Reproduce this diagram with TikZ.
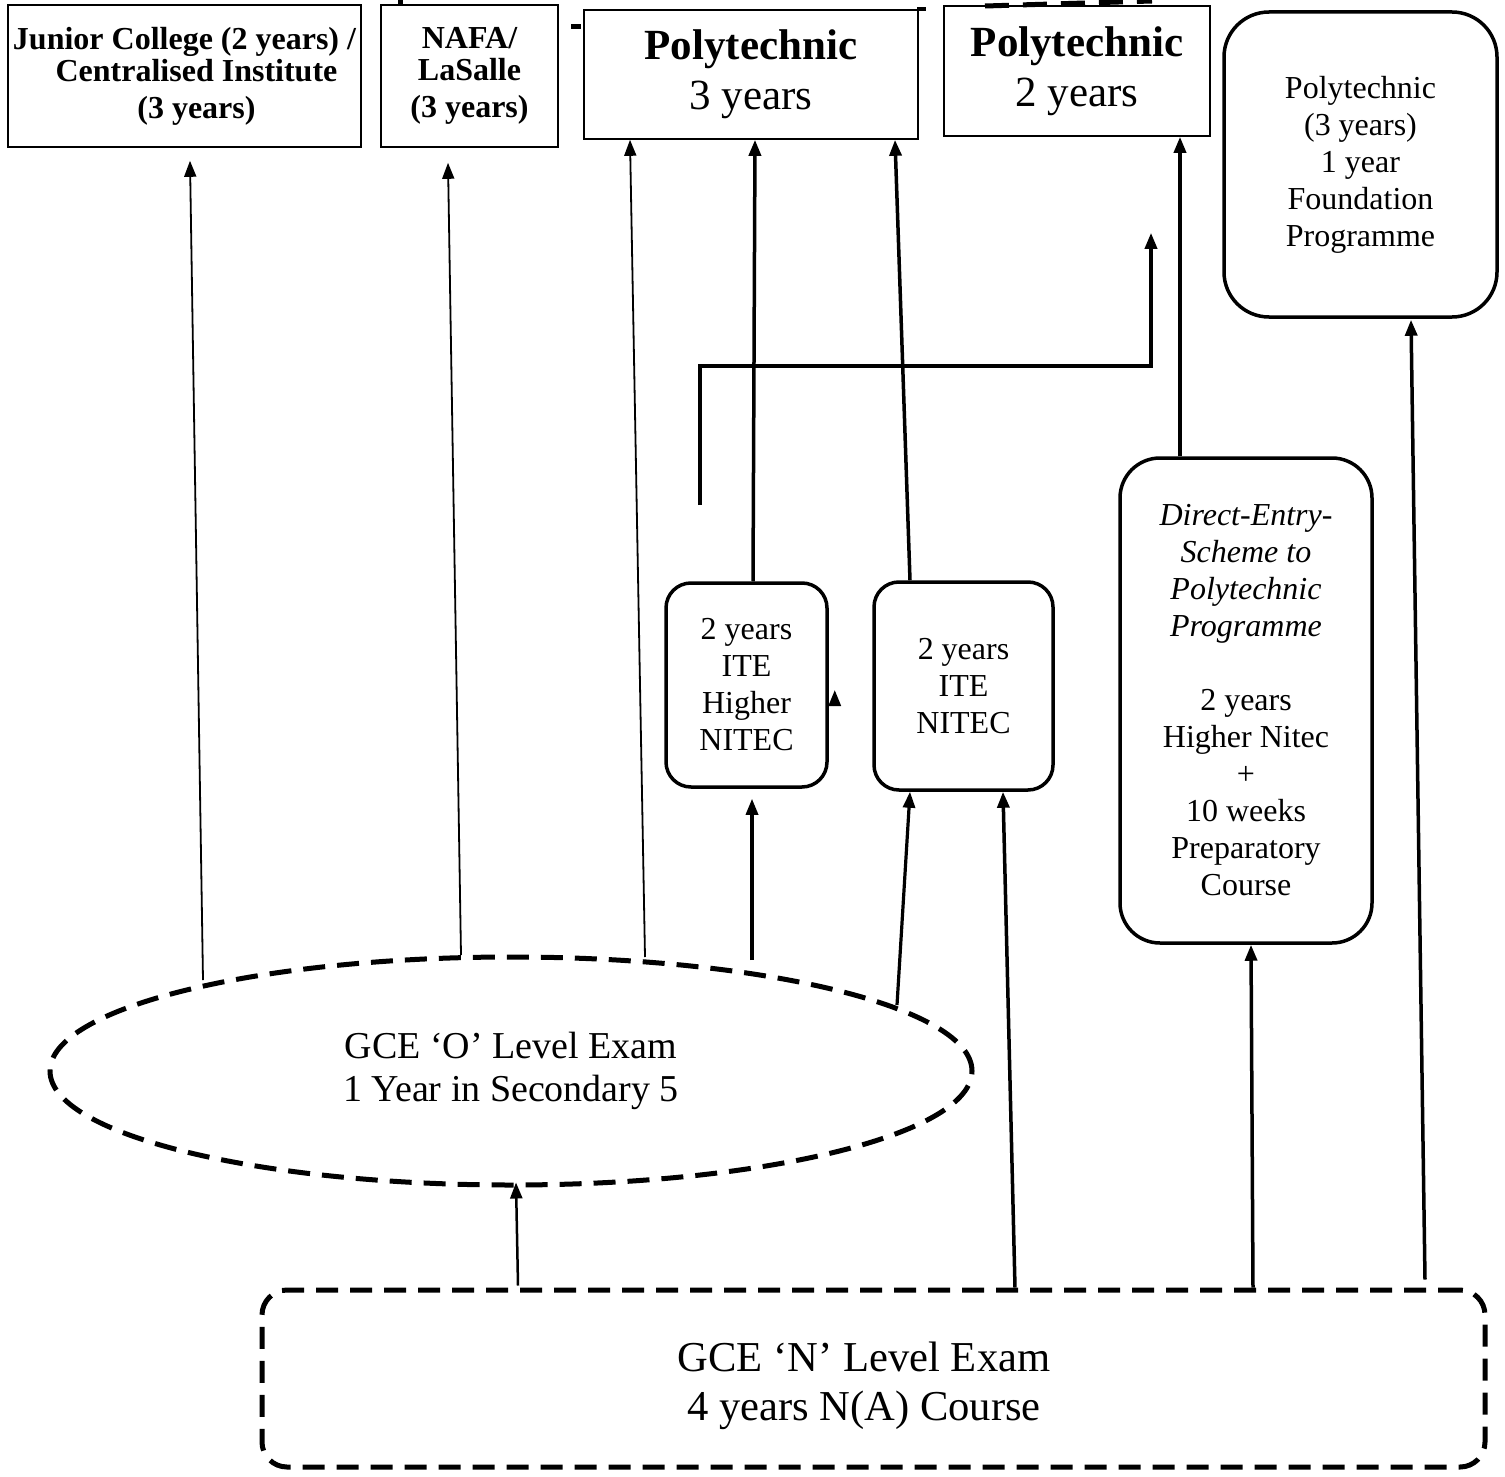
\documentclass[tikz,border=0pt]{standalone}
\usepackage{fontspec}
\setmainfont{Liberation Serif}
\usetikzlibrary{arrows.meta,shapes.geometric,calc}
\newcommand\fsmall{\fontsize{32}{37}\selectfont}
\newcommand\fbig{\fontsize{43}{50}\selectfont}
\begin{document}
\begin{tikzpicture}[x=1pt,y=-1pt,
  sq/.style={draw,line width=1.6pt,inner sep=0pt,align=center},
  rbox/.style={draw,line width=3.5pt,rounded corners=#1,inner sep=0pt,align=center},
  rbox/.default=25pt,
  dsh/.style={draw,line width=5pt,dash pattern=on 22pt off 12pt},
  arr/.style={-{Triangle[length=16pt,width=12pt]},line width=#1},
  arr/.default=3.5pt]
\useasboundingbox (0,0) rectangle (1505,1477);

% top boxes
\node[sq,minimum width=353pt,minimum height=142pt,font=\fsmall\bfseries] (JC) at (184.5,76)
  {Junior College (2 years) /\\[-5pt]\hspace*{24pt}Centralised Institute\\\hspace*{24pt}(3 years)};
\node[sq,minimum width=177pt,minimum height=142pt,font=\fsmall\bfseries] (NAFA) at (469.5,76)
  {NAFA/\\[-5pt]LaSalle\\(3 years)};
\node[sq,minimum width=334pt,minimum height=129pt,font=\fbig] (P3) at (751,74.5)
  {\textbf{Polytechnic}\\3 years};
\node[sq,minimum width=266pt,minimum height=130pt,font=\fbig] (P2) at (1077,71)
  {\textbf{Polytechnic}\\2 years};
\node[rbox=45pt,minimum width=273pt,minimum height=305pt,font=\fsmall] (PF) at (1360.5,164.5)
  {Polytechnic\\(3 years)\\1 year\\Foundation\\Programme};

% middle boxes
\node[rbox,minimum width=161pt,minimum height=204pt,font=\fsmall] (IH) at (746.5,685)
  {2 years\\ITE\\Higher\\NITEC};
\node[rbox,minimum width=179pt,minimum height=208pt,font=\fsmall] (IN) at (963.5,686)
  {2 years\\ITE\\NITEC};
\node[rbox=40pt,minimum width=252pt,minimum height=485pt,font=\fsmall] (DE) at (1246,700.5)
  {\textit{Direct-Entry-}\\\textit{Scheme to}\\\textit{Polytechnic}\\\textit{Programme}\\[37pt]2 years\\Higher Nitec\\+\\10 weeks\\Preparatory\\Course};

% bottom shapes
\node[ellipse,dsh,minimum width=922pt,minimum height=228pt,inner sep=0pt,align=center,
      font=\fontsize{38}{43.5}\selectfont] (O) at (511,1071)
  {GCE ‘O’ Level Exam\\1 Year in Secondary 5};
\node[dsh,rounded corners=25pt,minimum width=1223pt,minimum height=177pt,inner sep=0pt] (N) at (873.5,1378.5) {};
\node[align=center,inner sep=0pt,font=\fontsize{42.6}{49}\selectfont] (Nt) at (864,1386)
  {GCE ‘N’ Level Exam\\4 years N(A) Course};

% clipped fragments along the top edge
\fill (398,0) rectangle (403,5);
\fill (571,24) rectangle (581,29);
\fill (917,7) rectangle (926,11);
\draw[line width=5pt,dash pattern=on 24pt off 14pt] (985,6) -- (1152,1);

% connectors from O level
\draw[arr=1.8pt] ($(O.center)+(-308,-91)$) -- ($(JC.south)+(5.5,13)$);
\draw[arr=1.8pt] ($(O.center)+(-50,-116)$) -- ($(NAFA.south)+(-21.5,15)$);
\draw[arr=1.8pt] ($(O.center)+(134,-114)$) -- ($(P3.south)+(-121,0)$);
\draw[arr=3.2pt] ($(O.center)+(241,-111)$) -- ($(IH.south)+(5.5,10)$);
\draw[arr=3.2pt] ($(O.center)+(386,-66)$) -- ($(IN.south)+(-53.5,0)$);

% connectors from ITE / DSE boxes
\draw[arr=3.5pt] ($(IH.north)+(6.5,0)$) -- ($(P3.south)+(4,0)$);
\draw[arr=3.5pt] ($(IN.north)+(-53.5,0)$) -- ($(P3.south)+(144,0)$);
\draw[arr=3.5pt] ($(DE.north)+(-66,0)$) -- ($(P2.south)+(103,0)$);
\coordinate (free) at (700,505);
\draw[arr=3.5pt] (free) |- ($(P2.south)+(74,229)$) -- ($(P2.south)+(74,96)$);
\draw[arr=3pt] ($(IH.east)+(6,21)$) -- ($(IH.east)+(6,5)$);

% connectors from N level
\draw[arr=2.5pt] ($(N.north)+(-355.5,-2)$) -- ($(O.south)+(5,-5)$);
\draw[arr=3.5pt] ($(N.north)+(141.5,0)$) -- ($(IN.south)+(39.5,0)$);
\draw[arr=3.5pt] ($(N.north)+(379.5,0)$) -- ($(DE.south)+(5,0)$);
\draw[arr=3.5pt] ($(N.north)+(551.5,-8)$) -- ($(PF.south)+(50.5,1)$);
\end{tikzpicture}
\end{document}
